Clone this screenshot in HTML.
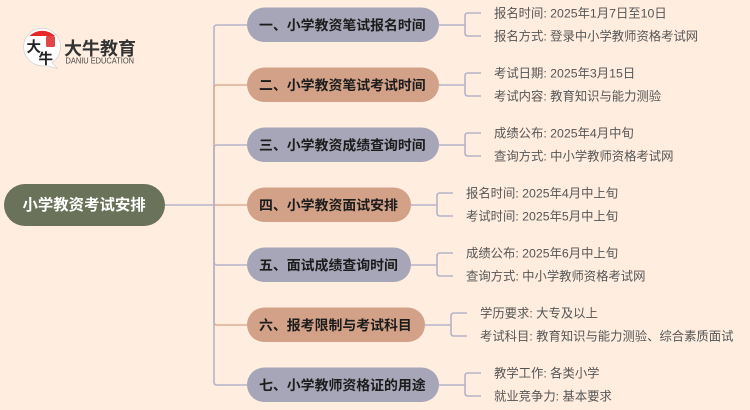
<!DOCTYPE html>
<html>
<head>
<meta charset="utf-8">
<style>
html,body{margin:0;padding:0;background:#ffeee0;width:750px;height:410px;overflow:hidden}
svg{display:block}
text{font-family:"Liberation Sans","Noto Sans CJK SC",sans-serif}
.b{font-size:13.900px;font-weight:700;fill:#1c1c1c}
.l{font-size:12.330px;fill:#555}
.a{fill:none;stroke:#b5b3c8;stroke-width:1.6}
.o{fill:none;stroke:#dcae94;stroke-width:1.6}
</style>
</head>
<body>
<svg width="750" height="410" viewBox="0 0 750 410" xmlns="http://www.w3.org/2000/svg">
<rect width="750" height="410" fill="#ffeee0"/>

<!-- logo -->
<path d="M29 60 A18.500 18.500 0 1 1 52 62.500 L57.500 68.500 L46 65.500 A18.500 18.500 0 0 1 29 60Z" fill="#fff" stroke="#d8d4d0" stroke-width="0.8"/>
<path d="M29.500 36 A18 18 0 0 1 55 36 Z" fill="#e8292a"/>
<rect x="46" y="36" width="9" height="11" rx="1.500" fill="#e04848"/>
<text x="26.500" y="52" font-size="14.500" font-weight="700" fill="#222">大</text>
<text x="38.500" y="64" font-size="14.500" font-weight="700" fill="#222">牛</text>
<text x="64" y="55" font-size="18" font-weight="700" fill="#333">大牛教育</text>
<text x="65.500" y="63.500" font-size="8" font-weight="400" fill="#444" textLength="68.500" lengthAdjust="spacingAndGlyphs">DANIU EDUCATION</text>

<!-- trunk -->
<path class="a" d="M165 205H214"/>
<path class="a" d="M214 205V28Q214 25 217 25H247"/>
<path class="o" d="M214 205V88Q214 85 217 85H247"/>
<path class="a" d="M214 205V148Q214 145 217 145H247"/>
<path class="o" d="M214 205H247"/>
<path class="a" d="M214 205V262Q214 265 217 265H247"/>
<path class="o" d="M214 205V322Q214 325 217 325H247"/>
<path class="a" d="M214 205V382Q214 385 217 385H247"/>

<!-- root -->
<rect x="4" y="184" width="161" height="42" rx="21" fill="#6a7259"/>
<text x="22.500" y="210" font-size="15.400" font-weight="700" fill="#fff">小学教资考试安排</text>

<!-- leaf connectors -->
<path class="a" d="M439 25H465M481 13H468Q465 13 465 16V33Q465 36 468 36H481"/>
<path class="a" d="M439 85H465M481 73H468Q465 73 465 76V93Q465 96 468 96H481"/>
<path class="a" d="M439 145H465M481 133H468Q465 133 465 136V153Q465 156 468 156H481"/>
<path class="a" d="M411 205H437M453 193H440Q437 193 437 196V213Q437 216 440 216H453"/>
<path class="a" d="M411 265H437M453 253H440Q437 253 437 256V273Q437 276 440 276H453"/>
<path class="a" d="M425 325H451M467 313H454Q451 313 451 316V333Q451 336 454 336H467"/>
<path class="a" d="M439 385H465M481 373H468Q465 373 465 376V393Q465 396 468 396H481"/>

<!-- branch nodes -->
<rect x="247" y="7.500" width="192" height="34.500" rx="17.250" fill="#a6a6b8"/>
<text class="b" x="259" y="30">一、小学教资笔试报名时间</text>
<rect x="247" y="67.500" width="192" height="34.500" rx="17.250" fill="#d2a187"/>
<text class="b" x="259" y="90">二、小学教资笔试考试时间</text>
<rect x="247" y="127.500" width="192" height="34.500" rx="17.250" fill="#a6a6b8"/>
<text class="b" x="259" y="150">三、小学教资成绩查询时间</text>
<rect x="247" y="187.500" width="164" height="34.500" rx="17.250" fill="#d2a187"/>
<text class="b" x="259" y="210">四、小学教资面试安排</text>
<rect x="247" y="247.500" width="164" height="34.500" rx="17.250" fill="#a6a6b8"/>
<text class="b" x="259" y="270">五、面试成绩查询时间</text>
<rect x="247" y="307.500" width="178" height="34.500" rx="17.250" fill="#d2a187"/>
<text class="b" x="259" y="330">六、报考限制与考试科目</text>
<rect x="247" y="367.500" width="192" height="34.500" rx="17.250" fill="#a6a6b8"/>
<text class="b" x="259" y="390">七、小学教师资格证的用途</text>

<!-- leaves -->
<text class="l" x="494" y="17.500">报名时间: 2025年1月7日至10日</text>
<text class="l" x="494" y="40.500">报名方式: 登录中小学教师资格考试网</text>
<text class="l" x="494" y="77.500">考试日期: 2025年3月15日</text>
<text class="l" x="494" y="100.500">考试内容: 教育知识与能力测验</text>
<text class="l" x="494" y="137.500">成绩公布: 2025年4月中旬</text>
<text class="l" x="494" y="160.500">查询方式: 中小学教师资格考试网</text>
<text class="l" x="466" y="197.500">报名时间: 2025年4月中上旬</text>
<text class="l" x="466" y="220.500">考试时间: 2025年5月中上旬</text>
<text class="l" x="466" y="257.500">成绩公布: 2025年6月中上旬</text>
<text class="l" x="466" y="280.500">查询方式: 中小学教师资格考试网</text>
<text class="l" x="480" y="317.500">学历要求: 大专及以上</text>
<text class="l" x="480" y="340.500">考试科目: 教育知识与能力测验、综合素质面试</text>
<text class="l" x="494" y="377.500">教学工作: 各类小学</text>
<text class="l" x="494" y="400.500">就业竞争力: 基本要求</text>
</svg>
</body>
</html>
